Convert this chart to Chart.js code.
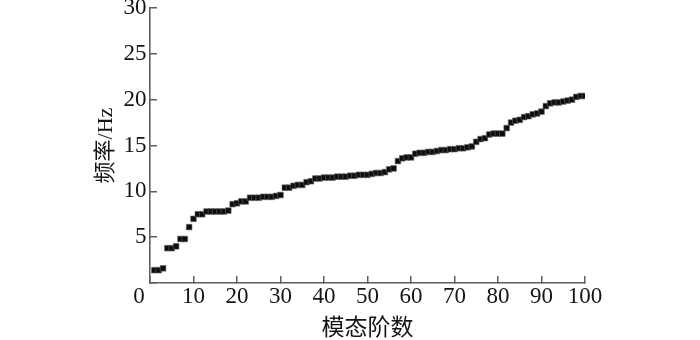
<!DOCTYPE html>
<html>
<head>
<meta charset="utf-8">
<script src="https://cdn.jsdelivr.net/npm/chart.js@4/dist/chart.umd.min.js"></script>
<style>
  html, body { margin: 0; padding: 0; background: #fff; }
  #c { display: block; }
</style>
</head>
<body>
<canvas id="c" width="700" height="340"></canvas>
<script>
// 模态阶数 (mode order) and 频率 (frequency, Hz)
const modeOrders = Array.from({length: 100}, (_, i) => i + 1);
const frequencies = [
  1.4, 1.4, 1.6, 3.8, 3.8, 4.0, 4.8, 4.8, 6.1, 7.0,
  7.5, 7.5, 7.8, 7.8, 7.8, 7.8, 7.8, 7.9, 8.6, 8.7,
  8.9, 8.9, 9.3, 9.3, 9.3, 9.4, 9.4, 9.4, 9.5, 9.6,
  10.4, 10.4, 10.6, 10.7, 10.7, 11.0, 11.1, 11.4, 11.4, 11.5,
  11.5, 11.5, 11.6, 11.6, 11.6, 11.7, 11.7, 11.8, 11.8, 11.8,
  11.9, 12.0, 12.0, 12.1, 12.4, 12.5, 13.3, 13.6, 13.7, 13.7,
  14.1, 14.2, 14.2, 14.3, 14.3, 14.4, 14.5, 14.5, 14.6, 14.6,
  14.7, 14.7, 14.8, 14.9, 15.4, 15.7, 15.8, 16.2, 16.3, 16.3,
  16.3, 16.9, 17.5, 17.7, 17.8, 18.1, 18.2, 18.4, 18.5, 18.7,
  19.3, 19.6, 19.7, 19.7, 19.8, 19.9, 20.0, 20.3, 20.4, 20.4
];
const xTickValues = [0, 10, 20, 30, 40, 50, 60, 70, 80, 90, 100];
const yTickValues = [0, 5, 10, 15, 20, 25, 30];
const xTitle = '模态阶数';
const yTitle = '频率/Hz';
const originLabel = '0';

const FONT = "'Liberation Serif', 'Times New Roman', 'Noto Sans CJK SC', serif";
const AXIS_COLOR = '#5e5e5e';
const TEXT_COLOR = '#151515';

const originPlugin = {
  id: 'originLabel',
  afterDraw(chart) {
    const ctx = chart.ctx;
    const xs = chart.scales.x;
    ctx.save();
    ctx.font = "23px " + FONT;
    ctx.fillStyle = TEXT_COLOR;
    ctx.textAlign = 'center';
    ctx.textBaseline = 'middle';
    ctx.fillText(originLabel, xs.getPixelForValue(0) - 11, xs.top - 7 + 7 + 13.8);
    ctx.restore();
  }
};

new Chart(document.getElementById('c'), {
  type: 'scatter',
  data: {
    datasets: [{
      data: modeOrders.map((m, i) => ({x: m, y: frequencies[i]})),
      pointStyle: 'rect',
      pointRadius: 4,
      pointBorderWidth: 0.6,
      pointBorderColor: '#666',
      pointBackgroundColor: '#0d0d0d',
      showLine: false
    }]
  },
  options: {
    responsive: false,
    animation: false,
    devicePixelRatio: 1,
    layout: { padding: { top: 8, right: 115, left: 0, bottom: 0 } },
    plugins: { legend: { display: false }, tooltip: { enabled: false } },
    scales: {
      x: {
        type: 'linear',
        min: 0, max: 100,
        afterBuildTicks(scale) { scale.ticks = xTickValues.map(v => ({value: v})); },
        afterFit(scale) { scale.height = 57; scale.paddingLeft = 0; scale.paddingRight = 0; },
        ticks: {
          font: { family: FONT, size: 23 },
          color: TEXT_COLOR,
          padding: 7,
          maxRotation: 0,
          autoSkip: false,
          callback: v => (v === 0 ? '' : String(v))
        },
        grid: {
          drawOnChartArea: false,
          drawTicks: true,
          tickLength: -7,
          color: AXIS_COLOR,
          lineWidth: 1.5
        },
        border: { display: true, color: AXIS_COLOR, width: 1.6 },
        title: {
          display: true,
          text: xTitle,
          font: { family: FONT, size: 23, lineHeight: 1 },
          color: TEXT_COLOR,
          padding: { top: 0, bottom: 0 }
        }
      },
      y: {
        type: 'linear',
        min: 0, max: 30,
        afterBuildTicks(scale) { scale.ticks = yTickValues.map(v => ({value: v})); },
        afterFit(scale) { scale.width = 150; scale.paddingTop = 0; scale.paddingBottom = 0; },
        ticks: {
          font: { family: FONT, size: 23 },
          color: TEXT_COLOR,
          padding: 10.5,
          autoSkip: false,
          callback: v => (v === 0 ? '' : String(v))
        },
        grid: {
          drawOnChartArea: false,
          drawTicks: true,
          tickLength: -7,
          color: AXIS_COLOR,
          lineWidth: 1.5
        },
        border: { display: true, color: AXIS_COLOR, width: 1.6 },
        title: {
          display: true,
          text: yTitle,
          font: { family: FONT, size: 22, lineHeight: 1 },
          color: TEXT_COLOR,
          padding: { top: 95, bottom: 0 }
        }
      }
    }
  },
  plugins: [originPlugin]
});
</script>
</body>
</html>
